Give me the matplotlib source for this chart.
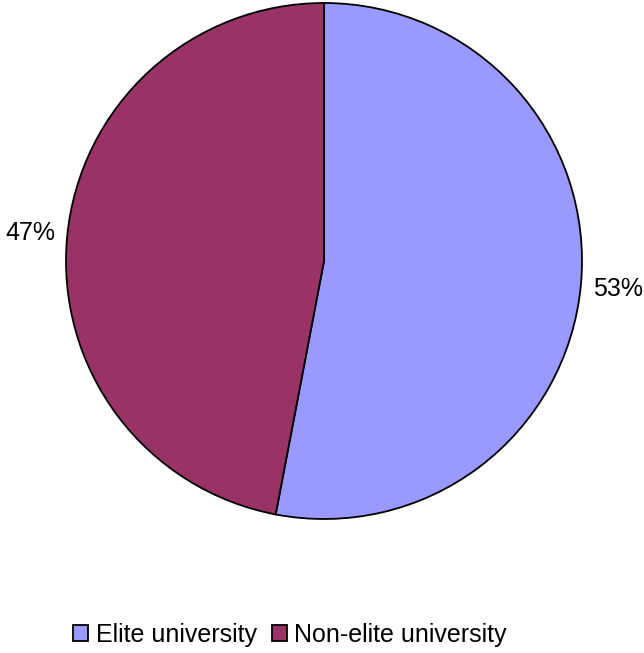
import matplotlib
matplotlib.use("Agg")
import matplotlib.pyplot as plt

plt.rcParams["font.family"] = ["Liberation Sans", "DejaVu Sans"]

categories = ["Elite university", "Non-elite university"]
shares = [53, 47]
colors = ["#9999FF", "#993366"]

W, H = 644, 653
fig = plt.figure(figsize=(W / 100, H / 100), dpi=100)
ax = fig.add_axes([0, 0, 1, 1])

wedges, texts = ax.pie(
    shares,
    colors=colors,
    startangle=90,
    counterclock=False,
    center=(324, H - 261),
    radius=258,
    labels=[f"{s}%" for s in shares],
    labeldistance=1.145,
    wedgeprops=dict(edgecolor="black", linewidth=1.3),
    textprops=dict(fontsize=18),
)
for t in texts:
    t.set_horizontalalignment("center")
    t.set_verticalalignment("center")

ax.set_xlim(0, W)
ax.set_ylim(0, H)
ax.set_aspect("equal")
ax.axis("off")

fig.legend(
    wedges,
    categories,
    loc="center",
    bbox_to_anchor=(290 / W, 1 - 635 / H),
    ncol=2,
    frameon=False,
    fontsize=18,
    handlelength=0.6,
    handleheight=0.6,
    handletextpad=0.3,
    columnspacing=0.6,
)

fig.savefig("out.png", dpi=100)
